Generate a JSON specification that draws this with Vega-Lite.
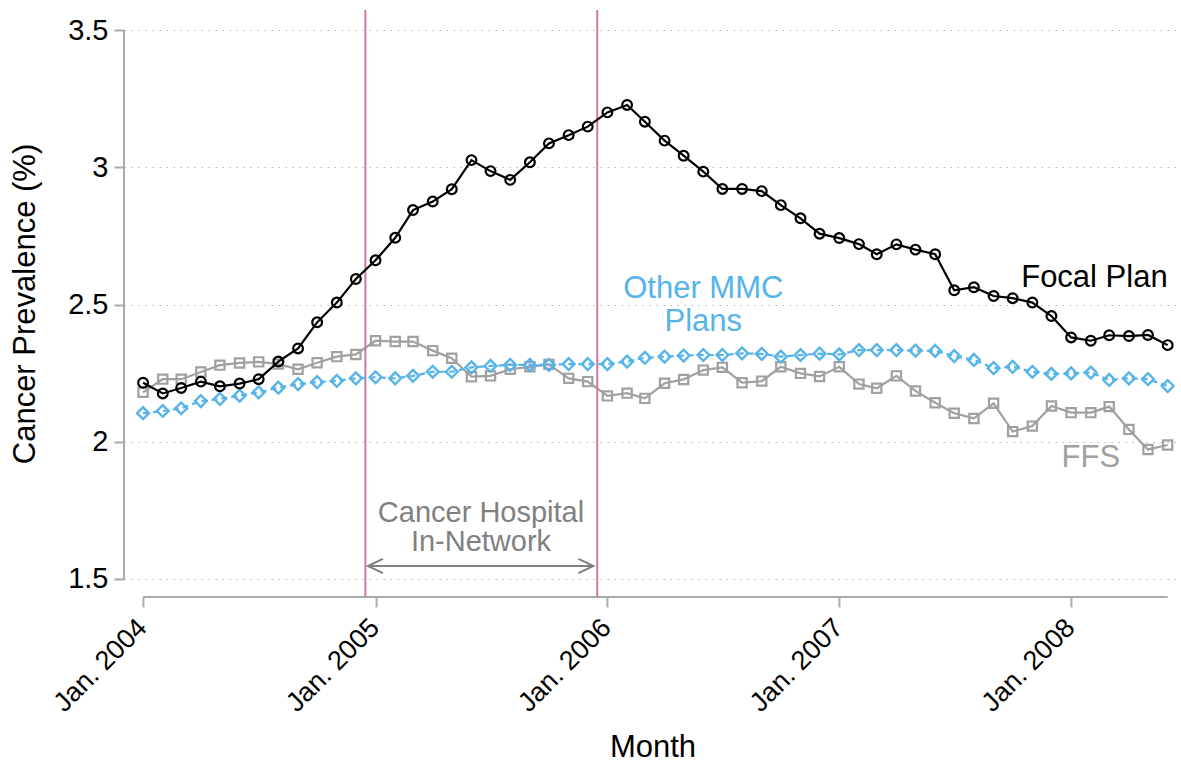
{
  "$schema": "https://vega.github.io/schema/vega-lite/v6.json",
  "width": 1057,
  "height": 587,
  "autosize": {"type": "none"},
  "padding": {"left": 124, "top": 10, "right": 0, "bottom": 166},
  "config": {
    "font": "Liberation Sans",
    "view": {"stroke": null},
    "axis": {"titleFontWeight": "normal", "titleColor": "black", "labelColor": "black"}
  },
  "datasets": {
    "series": [
      {"month": "2004-01-01", "series": "FFS", "value": 2.18},
      {"month": "2004-02-01", "series": "FFS", "value": 2.228},
      {"month": "2004-03-01", "series": "FFS", "value": 2.228},
      {"month": "2004-04-01", "series": "FFS", "value": 2.254},
      {"month": "2004-05-01", "series": "FFS", "value": 2.279},
      {"month": "2004-06-01", "series": "FFS", "value": 2.287},
      {"month": "2004-07-01", "series": "FFS", "value": 2.291},
      {"month": "2004-08-01", "series": "FFS", "value": 2.283},
      {"month": "2004-09-01", "series": "FFS", "value": 2.264},
      {"month": "2004-10-01", "series": "FFS", "value": 2.288},
      {"month": "2004-11-01", "series": "FFS", "value": 2.31},
      {"month": "2004-12-01", "series": "FFS", "value": 2.318},
      {"month": "2005-01-01", "series": "FFS", "value": 2.368},
      {"month": "2005-02-01", "series": "FFS", "value": 2.365},
      {"month": "2005-03-01", "series": "FFS", "value": 2.365},
      {"month": "2005-04-01", "series": "FFS", "value": 2.332},
      {"month": "2005-05-01", "series": "FFS", "value": 2.304},
      {"month": "2005-06-01", "series": "FFS", "value": 2.237},
      {"month": "2005-07-01", "series": "FFS", "value": 2.24},
      {"month": "2005-08-01", "series": "FFS", "value": 2.264},
      {"month": "2005-09-01", "series": "FFS", "value": 2.273},
      {"month": "2005-10-01", "series": "FFS", "value": 2.282},
      {"month": "2005-11-01", "series": "FFS", "value": 2.231},
      {"month": "2005-12-01", "series": "FFS", "value": 2.219},
      {"month": "2006-01-01", "series": "FFS", "value": 2.167},
      {"month": "2006-02-01", "series": "FFS", "value": 2.177},
      {"month": "2006-03-01", "series": "FFS", "value": 2.158},
      {"month": "2006-04-01", "series": "FFS", "value": 2.213},
      {"month": "2006-05-01", "series": "FFS", "value": 2.227},
      {"month": "2006-06-01", "series": "FFS", "value": 2.261},
      {"month": "2006-07-01", "series": "FFS", "value": 2.271},
      {"month": "2006-08-01", "series": "FFS", "value": 2.215},
      {"month": "2006-09-01", "series": "FFS", "value": 2.221},
      {"month": "2006-10-01", "series": "FFS", "value": 2.273},
      {"month": "2006-11-01", "series": "FFS", "value": 2.249},
      {"month": "2006-12-01", "series": "FFS", "value": 2.238},
      {"month": "2007-01-01", "series": "FFS", "value": 2.273},
      {"month": "2007-02-01", "series": "FFS", "value": 2.21},
      {"month": "2007-03-01", "series": "FFS", "value": 2.195},
      {"month": "2007-04-01", "series": "FFS", "value": 2.24},
      {"month": "2007-05-01", "series": "FFS", "value": 2.185},
      {"month": "2007-06-01", "series": "FFS", "value": 2.142},
      {"month": "2007-07-01", "series": "FFS", "value": 2.104},
      {"month": "2007-08-01", "series": "FFS", "value": 2.085},
      {"month": "2007-09-01", "series": "FFS", "value": 2.14},
      {"month": "2007-10-01", "series": "FFS", "value": 2.037},
      {"month": "2007-11-01", "series": "FFS", "value": 2.057},
      {"month": "2007-12-01", "series": "FFS", "value": 2.13},
      {"month": "2008-01-01", "series": "FFS", "value": 2.106},
      {"month": "2008-02-01", "series": "FFS", "value": 2.106},
      {"month": "2008-03-01", "series": "FFS", "value": 2.128},
      {"month": "2008-04-01", "series": "FFS", "value": 2.045},
      {"month": "2008-05-01", "series": "FFS", "value": 1.972},
      {"month": "2008-06-01", "series": "FFS", "value": 1.988},
      {"month": "2004-01-01", "series": "Other MMC Plans", "value": 2.104},
      {"month": "2004-02-01", "series": "Other MMC Plans", "value": 2.112},
      {"month": "2004-03-01", "series": "Other MMC Plans", "value": 2.122},
      {"month": "2004-04-01", "series": "Other MMC Plans", "value": 2.148},
      {"month": "2004-05-01", "series": "Other MMC Plans", "value": 2.156},
      {"month": "2004-06-01", "series": "Other MMC Plans", "value": 2.168},
      {"month": "2004-07-01", "series": "Other MMC Plans", "value": 2.18},
      {"month": "2004-08-01", "series": "Other MMC Plans", "value": 2.197},
      {"month": "2004-09-01", "series": "Other MMC Plans", "value": 2.21},
      {"month": "2004-10-01", "series": "Other MMC Plans", "value": 2.217},
      {"month": "2004-11-01", "series": "Other MMC Plans", "value": 2.222},
      {"month": "2004-12-01", "series": "Other MMC Plans", "value": 2.231},
      {"month": "2005-01-01", "series": "Other MMC Plans", "value": 2.235},
      {"month": "2005-02-01", "series": "Other MMC Plans", "value": 2.231},
      {"month": "2005-03-01", "series": "Other MMC Plans", "value": 2.24},
      {"month": "2005-04-01", "series": "Other MMC Plans", "value": 2.255},
      {"month": "2005-05-01", "series": "Other MMC Plans", "value": 2.255},
      {"month": "2005-06-01", "series": "Other MMC Plans", "value": 2.271},
      {"month": "2005-07-01", "series": "Other MMC Plans", "value": 2.276},
      {"month": "2005-08-01", "series": "Other MMC Plans", "value": 2.28},
      {"month": "2005-09-01", "series": "Other MMC Plans", "value": 2.28},
      {"month": "2005-10-01", "series": "Other MMC Plans", "value": 2.28},
      {"month": "2005-11-01", "series": "Other MMC Plans", "value": 2.283},
      {"month": "2005-12-01", "series": "Other MMC Plans", "value": 2.283},
      {"month": "2006-01-01", "series": "Other MMC Plans", "value": 2.283},
      {"month": "2006-02-01", "series": "Other MMC Plans", "value": 2.292},
      {"month": "2006-03-01", "series": "Other MMC Plans", "value": 2.306},
      {"month": "2006-04-01", "series": "Other MMC Plans", "value": 2.31},
      {"month": "2006-05-01", "series": "Other MMC Plans", "value": 2.314},
      {"month": "2006-06-01", "series": "Other MMC Plans", "value": 2.316},
      {"month": "2006-07-01", "series": "Other MMC Plans", "value": 2.316},
      {"month": "2006-08-01", "series": "Other MMC Plans", "value": 2.322},
      {"month": "2006-09-01", "series": "Other MMC Plans", "value": 2.32},
      {"month": "2006-10-01", "series": "Other MMC Plans", "value": 2.31},
      {"month": "2006-11-01", "series": "Other MMC Plans", "value": 2.316},
      {"month": "2006-12-01", "series": "Other MMC Plans", "value": 2.321},
      {"month": "2007-01-01", "series": "Other MMC Plans", "value": 2.318},
      {"month": "2007-02-01", "series": "Other MMC Plans", "value": 2.334},
      {"month": "2007-03-01", "series": "Other MMC Plans", "value": 2.334},
      {"month": "2007-04-01", "series": "Other MMC Plans", "value": 2.334},
      {"month": "2007-05-01", "series": "Other MMC Plans", "value": 2.332},
      {"month": "2007-06-01", "series": "Other MMC Plans", "value": 2.331},
      {"month": "2007-07-01", "series": "Other MMC Plans", "value": 2.312},
      {"month": "2007-08-01", "series": "Other MMC Plans", "value": 2.298},
      {"month": "2007-09-01", "series": "Other MMC Plans", "value": 2.268},
      {"month": "2007-10-01", "series": "Other MMC Plans", "value": 2.273},
      {"month": "2007-11-01", "series": "Other MMC Plans", "value": 2.255},
      {"month": "2007-12-01", "series": "Other MMC Plans", "value": 2.247},
      {"month": "2008-01-01", "series": "Other MMC Plans", "value": 2.249},
      {"month": "2008-02-01", "series": "Other MMC Plans", "value": 2.252},
      {"month": "2008-03-01", "series": "Other MMC Plans", "value": 2.225},
      {"month": "2008-04-01", "series": "Other MMC Plans", "value": 2.231},
      {"month": "2008-05-01", "series": "Other MMC Plans", "value": 2.228},
      {"month": "2008-06-01", "series": "Other MMC Plans", "value": 2.203},
      {"month": "2004-01-01", "series": "Focal Plan", "value": 2.215},
      {"month": "2004-02-01", "series": "Focal Plan", "value": 2.176},
      {"month": "2004-03-01", "series": "Focal Plan", "value": 2.196},
      {"month": "2004-04-01", "series": "Focal Plan", "value": 2.219},
      {"month": "2004-05-01", "series": "Focal Plan", "value": 2.202},
      {"month": "2004-06-01", "series": "Focal Plan", "value": 2.212},
      {"month": "2004-07-01", "series": "Focal Plan", "value": 2.228},
      {"month": "2004-08-01", "series": "Focal Plan", "value": 2.292},
      {"month": "2004-09-01", "series": "Focal Plan", "value": 2.34},
      {"month": "2004-10-01", "series": "Focal Plan", "value": 2.435},
      {"month": "2004-11-01", "series": "Focal Plan", "value": 2.507},
      {"month": "2004-12-01", "series": "Focal Plan", "value": 2.593},
      {"month": "2005-01-01", "series": "Focal Plan", "value": 2.661},
      {"month": "2005-02-01", "series": "Focal Plan", "value": 2.743},
      {"month": "2005-03-01", "series": "Focal Plan", "value": 2.844},
      {"month": "2005-04-01", "series": "Focal Plan", "value": 2.875},
      {"month": "2005-05-01", "series": "Focal Plan", "value": 2.92},
      {"month": "2005-06-01", "series": "Focal Plan", "value": 3.026},
      {"month": "2005-07-01", "series": "Focal Plan", "value": 2.986},
      {"month": "2005-08-01", "series": "Focal Plan", "value": 2.954},
      {"month": "2005-09-01", "series": "Focal Plan", "value": 3.018},
      {"month": "2005-10-01", "series": "Focal Plan", "value": 3.087},
      {"month": "2005-11-01", "series": "Focal Plan", "value": 3.117},
      {"month": "2005-12-01", "series": "Focal Plan", "value": 3.148},
      {"month": "2006-01-01", "series": "Focal Plan", "value": 3.2},
      {"month": "2006-02-01", "series": "Focal Plan", "value": 3.227},
      {"month": "2006-03-01", "series": "Focal Plan", "value": 3.166},
      {"month": "2006-04-01", "series": "Focal Plan", "value": 3.097},
      {"month": "2006-05-01", "series": "Focal Plan", "value": 3.042},
      {"month": "2006-06-01", "series": "Focal Plan", "value": 2.984},
      {"month": "2006-07-01", "series": "Focal Plan", "value": 2.921},
      {"month": "2006-08-01", "series": "Focal Plan", "value": 2.921},
      {"month": "2006-09-01", "series": "Focal Plan", "value": 2.913},
      {"month": "2006-10-01", "series": "Focal Plan", "value": 2.862},
      {"month": "2006-11-01", "series": "Focal Plan", "value": 2.814},
      {"month": "2006-12-01", "series": "Focal Plan", "value": 2.758},
      {"month": "2007-01-01", "series": "Focal Plan", "value": 2.742},
      {"month": "2007-02-01", "series": "Focal Plan", "value": 2.72},
      {"month": "2007-03-01", "series": "Focal Plan", "value": 2.683},
      {"month": "2007-04-01", "series": "Focal Plan", "value": 2.719},
      {"month": "2007-05-01", "series": "Focal Plan", "value": 2.7},
      {"month": "2007-06-01", "series": "Focal Plan", "value": 2.683},
      {"month": "2007-07-01", "series": "Focal Plan", "value": 2.552},
      {"month": "2007-08-01", "series": "Focal Plan", "value": 2.563},
      {"month": "2007-09-01", "series": "Focal Plan", "value": 2.531},
      {"month": "2007-10-01", "series": "Focal Plan", "value": 2.523},
      {"month": "2007-11-01", "series": "Focal Plan", "value": 2.507},
      {"month": "2007-12-01", "series": "Focal Plan", "value": 2.458},
      {"month": "2008-01-01", "series": "Focal Plan", "value": 2.38},
      {"month": "2008-02-01", "series": "Focal Plan", "value": 2.368},
      {"month": "2008-03-01", "series": "Focal Plan", "value": 2.388},
      {"month": "2008-04-01", "series": "Focal Plan", "value": 2.385},
      {"month": "2008-05-01", "series": "Focal Plan", "value": 2.389},
      {"month": "2008-06-01", "series": "Focal Plan", "value": 2.352}
    ],
    "one": [{}]
  },
  "layer": [
    {
      "data": {"name": "series"},
      "transform": [{"filter": "datum.series === 'FFS'"}],
      "encoding": {
        "x": {
          "field": "month",
          "type": "temporal",
          "title": "Month",
          "scale": {"domain": [{"year": 2003, "month": 12, "date": 2}, {"year": 2008, "month": 6, "date": 22}]},
          "axis": {
            "values": [
              {"year": 2004, "month": 1, "date": 1},
              {"year": 2005, "month": 1, "date": 1},
              {"year": 2006, "month": 1, "date": 1},
              {"year": 2007, "month": 1, "date": 1},
              {"year": 2008, "month": 1, "date": 1}
            ],
            "format": "%b. %Y",
            "labelAngle": -45,
            "labelAlign": "right",
            "labelBaseline": "top",
            "labelFontSize": 27,
            "labelPadding": 7,
            "labelOffset": -10,
            "titleFontSize": 31,
            "titleY": 159,
            "titleBaseline": "alphabetic",
            "domain": false,
            "grid": false,
            "ticks": true,
            "tickSize": 10,
            "tickWidth": 2,
            "tickColor": "#aaaaaa"
          }
        },
        "y": {
          "field": "value",
          "type": "quantitative",
          "title": "Cancer Prevalence (%)",
          "scale": {"domain": [1.4344, 3.5729], "nice": false, "zero": false},
          "axis": {
            "values": [1.5, 2, 2.5, 3, 3.5],
            "format": "~g",
            "labelFontSize": 29,
            "labelPadding": 6,
            "titleFontSize": 31,
            "titlePadding": 26,
            "domain": false,
            "grid": true,
            "gridColor": "#b4b4b4",
            "gridDash": [1.5, 5.5],
            "gridWidth": 1.2,
            "tickSize": 10,
            "tickWidth": 2,
            "tickColor": "#aaaaaa"
          }
        }
      },
      "layer": [
        {"mark": {"type": "line", "color": "#a0a0a0", "strokeWidth": 2.2}},
        {"mark": {"type": "point", "shape": "square", "size": 85, "filled": false, "color": "#a0a0a0", "strokeWidth": 2.2, "opacity": 1}}
      ]
    },
    {
      "data": {"name": "one"},
      "mark": {"type": "rule", "color": "#aaaaaa", "strokeWidth": 2},
      "encoding": {
        "x": {"datum": {"year": 2003, "month": 12, "date": 2}, "type": "temporal"},
        "y": {"datum": 1.5, "type": "quantitative"},
        "y2": {"datum": 3.5}
      }
    },
    {
      "data": {"name": "one"},
      "mark": {"type": "rule", "color": "#aaaaaa", "strokeWidth": 2},
      "encoding": {
        "x": {"datum": {"year": 2004, "month": 1, "date": 1}, "type": "temporal"},
        "x2": {"datum": {"year": 2008, "month": 6, "date": 1}},
        "y": {"datum": 1.4344, "type": "quantitative"}
      }
    },
    {
      "data": {"name": "one"},
      "mark": {"type": "rule", "color": "#CC79A7", "strokeWidth": 2},
      "encoding": {
        "x": {"datum": {"year": 2004, "month": 12, "date": 16}, "type": "temporal"}
      }
    },
    {
      "data": {"name": "one"},
      "mark": {"type": "rule", "color": "#CC79A7", "strokeWidth": 2},
      "encoding": {
        "x": {"datum": {"year": 2005, "month": 12, "date": 16}, "type": "temporal"}
      }
    },
    {
      "data": {"name": "series"},
      "transform": [{"filter": "datum.series === 'Other MMC Plans'"}],
      "encoding": {
        "x": {"field": "month", "type": "temporal"},
        "y": {"field": "value", "type": "quantitative"}
      },
      "layer": [
        {"mark": {"type": "line", "color": "#56B4E9", "strokeWidth": 2.2, "strokeDash": [6, 4]}},
        {"mark": {"type": "point", "shape": "diamond", "size": 140, "filled": false, "color": "#56B4E9", "strokeWidth": 2.4, "opacity": 1}}
      ]
    },
    {
      "data": {"name": "series"},
      "transform": [{"filter": "datum.series === 'Focal Plan'"}],
      "encoding": {
        "x": {"field": "month", "type": "temporal"},
        "y": {"field": "value", "type": "quantitative"}
      },
      "layer": [
        {"mark": {"type": "line", "color": "black", "strokeWidth": 2.2}},
        {"mark": {"type": "point", "shape": "circle", "size": 95, "filled": false, "color": "black", "strokeWidth": 2.2, "opacity": 1}}
      ]
    },
    {
      "data": {"name": "one"},
      "mark": {"type": "rule", "color": "#808080", "strokeWidth": 2},
      "encoding": {
        "x": {"datum": {"year": 2004, "month": 12, "date": 20}, "type": "temporal"},
        "x2": {"datum": {"year": 2005, "month": 12, "date": 10}},
        "y": {"datum": 1.5474, "type": "quantitative"}
      }
    },
    {
      "data": {"name": "one"},
      "mark": {"type": "point", "shape": "M1,-0.47L0,0L1,0.47", "size": 900, "filled": false, "color": "#808080", "strokeWidth": 2, "opacity": 1},
      "encoding": {
        "x": {"datum": {"year": 2004, "month": 12, "date": 20}, "type": "temporal"},
        "y": {"datum": 1.5474, "type": "quantitative"}
      }
    },
    {
      "data": {"name": "one"},
      "mark": {"type": "point", "shape": "M-1,-0.47L0,0L-1,0.47", "size": 900, "filled": false, "color": "#808080", "strokeWidth": 2, "opacity": 1},
      "encoding": {
        "x": {"datum": {"year": 2005, "month": 12, "date": 10}, "type": "temporal"},
        "y": {"datum": 1.5474, "type": "quantitative"}
      }
    },
    {
      "data": {"name": "one"},
      "mark": {"type": "text", "text": ["Cancer Hospital", "In-Network"], "fontSize": 29, "lineHeight": 29.5, "align": "center", "baseline": "alphabetic", "color": "#808080"},
      "encoding": {
        "x": {"datum": {"year": 2005, "month": 6, "date": 16}, "type": "temporal"},
        "y": {"datum": 1.7087, "type": "quantitative"}
      }
    },
    {
      "data": {"name": "one"},
      "mark": {"type": "text", "text": ["Other MMC", "Plans"], "fontSize": 31, "lineHeight": 32.5, "align": "center", "baseline": "alphabetic", "color": "#56B4E9"},
      "encoding": {
        "x": {"datum": {"year": 2006, "month": 6, "date": 1}, "type": "temporal"},
        "y": {"datum": 2.5226, "type": "quantitative"}
      }
    },
    {
      "data": {"name": "one"},
      "mark": {"type": "text", "text": "Focal Plan", "fontSize": 31, "align": "right", "baseline": "alphabetic", "color": "black"},
      "encoding": {
        "x": {"datum": {"year": 2008, "month": 6, "date": 1}, "type": "temporal"},
        "y": {"datum": 2.565, "type": "quantitative"}
      }
    },
    {
      "data": {"name": "one"},
      "mark": {"type": "text", "text": "FFS", "fontSize": 31, "align": "center", "baseline": "alphabetic", "color": "#a0a0a0"},
      "encoding": {
        "x": {"datum": {"year": 2008, "month": 2, "date": 1}, "type": "temporal"},
        "y": {"datum": 1.908, "type": "quantitative"}
      }
    }
  ]
}
